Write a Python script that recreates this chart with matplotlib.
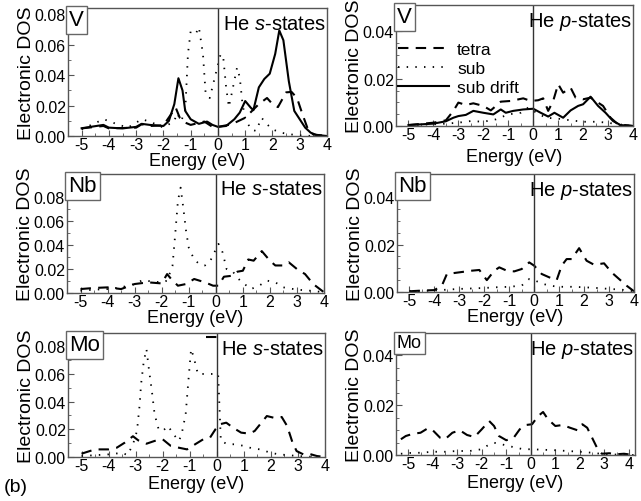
import numpy as np
import matplotlib
matplotlib.use("Agg")
import matplotlib.pyplot as plt

plt.rcParams['font.family'] = ['Liberation Sans', 'DejaVu Sans']
plt.rcParams['mathtext.fontset'] = 'custom'
plt.rcParams['mathtext.rm'] = 'Liberation Sans'
plt.rcParams['mathtext.it'] = 'Liberation Sans:italic'
plt.rcParams['axes.unicode_minus'] = False

# ---------------- data ----------------
# V, He s-states
v_s_drift_e = [-5, -4.2, -4, -3.5, -3, -2.8, -2.5, -2, -1.8, -1.6, -1.45, -1.3, -1.2, -1.0, -0.7, -0.4, -0.2, 0,
               0.3, 0.6, 0.8, 1.0, 1.2, 1.3, 1.5, 1.7, 1.9, 2.1, 2.25, 2.4, 2.6, 2.8, 3.0, 3.2, 3.4, 3.6, 4.0]
v_s_drift = [0.0051, 0.0073, 0.0055, 0.005, 0.006, 0.008, 0.0073, 0.0066, 0.0099, 0.021, 0.038, 0.030, 0.0165,
             0.011, 0.008, 0.0095, 0.0073, 0.006, 0.0066, 0.011, 0.0154, 0.023, 0.0187, 0.017, 0.032, 0.0375,
             0.041, 0.054, 0.0694, 0.063, 0.036, 0.0165, 0.011, 0.0055, 0.0022, 0.0007, 0.0]
v_s_tetra_e = [-5, -4.2, -4, -3, -2.8, -2.5, -2, -1.55, -1.4, -1.2, -1.0, -0.5, -0.2, 0, 0.5, 1.0, 1.5, 1.8,
               2.0, 2.2, 2.5, 2.7, 2.9, 3.1, 3.3, 3.5, 4.0]
v_s_tetra = [0.005, 0.0066, 0.005, 0.0055, 0.0077, 0.0066, 0.007, 0.0187, 0.012, 0.0088, 0.0073, 0.0095, 0.006,
             0.006, 0.0077, 0.012, 0.021, 0.025, 0.021, 0.019, 0.0287, 0.029, 0.025, 0.0143, 0.0044, 0.001, 0.0]
v_s_sub_e = [-5, -4.2, -4, -3.7, -3.3, -2.8, -2.5, -2.0, -1.8, -1.6, -1.5, -1.35, -1.2, -1.1, -1.0, -0.8, -0.7,
             -0.55, -0.45, -0.3, -0.15, 0.1, 0.2, 0.3, 0.4, 0.5, 0.7, 0.8, 0.9, 1.0, 1.2, 1.4, 1.6, 1.8, 2.0,
             2.3, 2.7, 3.0, 3.5, 4.0]
v_s_sub = [0.0044, 0.011, 0.0099, 0.0077, 0.0055, 0.011, 0.0095, 0.0055, 0.0077, 0.0099, 0.015, 0.0099, 0.0165,
           0.054, 0.069, 0.0677, 0.0716, 0.054, 0.0275, 0.025, 0.036, 0.054, 0.0507, 0.032, 0.019, 0.0275, 0.045,
           0.0386, 0.021, 0.012, 0.0044, 0.0033, 0.012, 0.0077, 0.0044, 0.0022, 0.001, 0.0004, 0.0, 0.0]

# V, He p-states
v_p_drift_e = [-5, -4, -3.5, -3.2, -3.0, -2.7, -2.4, -2.0, -1.6, -1.3, -1.1, -0.8, -0.4, 0, 0.3, 0.6, 0.85,
               1.2, 1.5, 1.8, 2.0, 2.3, 2.6, 2.9, 3.2, 3.5, 4.0]
v_p_drift = [0.0004, 0.001, 0.002, 0.0035, 0.0042, 0.0047, 0.0064, 0.0056, 0.0049, 0.007, 0.0056, 0.0064,
             0.007, 0.0073, 0.0056, 0.004, 0.0056, 0.0035, 0.0066, 0.0085, 0.0092, 0.0124, 0.0085, 0.0056,
             0.0021, 0.0004, 0.0]
v_p_tetra_e = [-5, -4, -3.5, -3.2, -3.0, -2.7, -2.4, -2.0, -1.7, -1.3, -0.9, -0.4, -0.1, 0.2, 0.4, 0.6, 0.8,
               1.0, 1.2, 1.5, 1.7, 2.0, 2.3, 2.6, 2.8, 3.1, 3.4, 4.0]
v_p_tetra = [0.0004, 0.0014, 0.0024, 0.0064, 0.0099, 0.0089, 0.0096, 0.0085, 0.0066, 0.0103, 0.0106, 0.0117,
             0.0106, 0.0109, 0.0117, 0.0064, 0.0106, 0.0177, 0.0141, 0.0162, 0.012, 0.0113, 0.012, 0.0099,
             0.0085, 0.0035, 0.0007, 0.0]
v_p_sub_e = [-5, -4, -3.5, -3, -2.5, -2, -1.5, -1, -0.5, -0.2, 0, 0.5, 1.0, 1.5, 2.0, 2.5, 3.0, 3.5, 4.0]
v_p_sub = [0.0004, 0.0007, 0.001, 0.0014, 0.0021, 0.0018, 0.0028, 0.0049, 0.0056, 0.0078, 0.0064, 0.0035,
           0.0031, 0.0024, 0.0018, 0.0018, 0.0014, 0.0004, 0.0]

# Nb, He s-states
nb_s_tetra_e = [-5, -4.5, -4, -3.5, -3.0, -2.5, -2.0, -1.8, -1.65, -1.4, -1.1, -0.8, -0.4, -0.1, 0.1, 0.3, 0.6,
                0.8, 1.0, 1.2, 1.4, 1.7, 2.0, 2.2, 2.5, 2.7, 3.0, 3.3, 3.6, 4.0]
nb_s_tetra = [0.0033, 0.0042, 0.0047, 0.0033, 0.0075, 0.0089, 0.008, 0.0158, 0.0117, 0.0061, 0.0075, 0.0117,
              0.0089, 0.0061, 0.0061, 0.0136, 0.0144, 0.0178, 0.0186, 0.028, 0.027, 0.035, 0.027, 0.023, 0.023,
              0.0256, 0.02, 0.0158, 0.0075, 0.0006]
nb_s_sub_e = [-5, -4.5, -4, -3.5, -3, -2.7, -2.4, -2.0, -1.8, -1.6, -1.5, -1.4, -1.3, -1.2, -1.1, -1.0, -0.8,
              -0.6, -0.4, -0.2, -0.05, 0.1, 0.25, 0.4, 0.6, 0.9, 1.3, 1.6, 1.9, 2.2, 2.5, 3.0, 3.5, 4.0]
nb_s_sub = [0.0019, 0.0028, 0.0033, 0.0047, 0.0075, 0.0108, 0.0097, 0.0089, 0.0103, 0.0228, 0.049, 0.077,
            0.088, 0.071, 0.052, 0.038, 0.028, 0.024, 0.023, 0.027, 0.034, 0.041, 0.034, 0.02, 0.0186, 0.0103,
            0.0033, 0.0061, 0.0103, 0.0089, 0.0047, 0.0028, 0.0019, 0.0006]

# Nb, He p-states
nb_p_tetra_e = [-5, -4.5, -4, -3.7, -3.5, -3.0, -2.5, -2.2, -1.9, -1.6, -1.4, -1.1, -0.8, -0.5, -0.2, 0.0, 0.3,
                0.6, 0.9, 1.1, 1.3, 1.5, 1.8, 2.1, 2.4, 2.8, 3.1, 3.4, 3.7, 4.0]
nb_p_tetra = [0.0003, 0.0006, 0.0008, 0.0027, 0.0076, 0.0083, 0.009, 0.0093, 0.005, 0.009, 0.0104, 0.009,
              0.0087, 0.0097, 0.0125, 0.0111, 0.0076, 0.0062, 0.005, 0.0111, 0.0139, 0.0139, 0.0185, 0.0132,
              0.0115, 0.0121, 0.0083, 0.0055, 0.0027, 0.0003]
nb_p_sub_e = [-5, -4, -3.5, -3, -2.5, -2, -1.5, -1, -0.5, -0.2, 0, 0.3, 0.6, 1.0, 1.5, 2.0, 2.5, 3.0, 3.5, 4.0]
nb_p_sub = [0.0003, 0.0006, 0.001, 0.0013, 0.0015, 0.0017, 0.002, 0.0022, 0.0027, 0.0055, 0.005, 0.0036,
            0.0027, 0.0022, 0.0022, 0.002, 0.0017, 0.0013, 0.001, 0.0003]

# Mo, He s-states
mo_s_tetra_e = [-5, -4.5, -4.0, -3.7, -3.4, -3.1, -2.9, -2.6, -2.3, -2.0, -1.7, -1.4, -1.1, -0.8, -0.5, -0.25,
                -0.05, 0.1, 0.35, 0.6, 0.9, 1.2, 1.4, 1.6, 1.85, 2.1, 2.4, 2.6, 2.8, 2.95, 3.2, 3.4, 3.7, 4.0]
mo_s_tetra = [0.0024, 0.0055, 0.0055, 0.0067, 0.0104, 0.015, 0.012, 0.0096, 0.0116, 0.0128, 0.008, 0.0067,
              0.0055, 0.0092, 0.0128, 0.014, 0.02, 0.0236, 0.0248, 0.0212, 0.0176, 0.0169, 0.0188, 0.0236,
              0.0296, 0.0284, 0.0289, 0.0224, 0.0104, 0.0043, 0.0019, 0.0024, 0.0007, 0.0]
mo_s_tetra_top_e = [-0.4, 0.05]
mo_s_tetra_top = [0.087, 0.087]
mo_s_sub_e = [-5, -4, -3.5, -3.3, -3.1, -2.95, -2.85, -2.8, -2.7, -2.6, -2.5, -2.4, -2.3, -2.15, -2.0, -1.8,
              -1.6, -1.4, -1.3, -1.15, -1.05, -0.95, -0.85, -0.7, -0.5, -0.3, 0.05, 0.15, 0.4, 0.7, 1.0, 1.3,
              1.6, 2.0, 2.3, 2.6, 3.0, 3.5, 4.0]
mo_s_sub = [0.0007, 0.0019, 0.003, 0.0014, 0.009, 0.0188, 0.038, 0.0525, 0.069, 0.078, 0.062, 0.0477, 0.031,
            0.02, 0.0188, 0.0224, 0.0164, 0.0116, 0.0164, 0.031, 0.055, 0.078, 0.072, 0.06, 0.06, 0.06, 0.06,
            0.0116, 0.0092, 0.0092, 0.008, 0.0063, 0.0055, 0.003, 0.0019, 0.0014, 0.0007, 0.0002, 0.0]

# Mo, He p-states
mo_p_tetra_e = [-5.3, -5.1, -4.8, -4.5, -4.2, -4.0, -3.7, -3.5, -3.2, -2.9, -2.6, -2.3, -2.0, -1.7, -1.5, -1.3,
                -1.0, -0.7, -0.45, -0.2, 0.05, 0.3, 0.5, 0.7, 1.0, 1.3, 1.6, 1.9, 2.1, 2.3, 2.5, 2.7, 2.9, 3.2,
                3.5, 3.8, 4.2]
mo_p_tetra = [0.0063, 0.0076, 0.0085, 0.0089, 0.0107, 0.0099, 0.0069, 0.0063, 0.0089, 0.0099, 0.008, 0.0072,
              0.0103, 0.0136, 0.0116, 0.0076, 0.0059, 0.0069, 0.0103, 0.012, 0.0123, 0.0156, 0.0172, 0.0143,
              0.0116, 0.012, 0.0109, 0.0099, 0.0123, 0.0109, 0.0069, 0.0029, 0.0005, 0.0007, 0.0003, 0.0005, 0.0]
mo_p_sub_e = [-5.3, -5, -4.5, -4, -3.5, -3, -2.5, -2, -1.8, -1.5, -1.2, -0.9, -0.6, -0.3, 0, 0.5, 1, 1.5, 2,
              2.5, 3.0, 4.2]
mo_p_sub = [0.0005, 0.0008, 0.0009, 0.0013, 0.0013, 0.0016, 0.0016, 0.0023, 0.0036, 0.0049, 0.0043, 0.0036,
            0.0029, 0.0023, 0.0023, 0.0021, 0.0019, 0.0016, 0.0013, 0.0009, 0.0003, 0.0]

xticks = [-5, -4, -3, -2, -1, 0, 1, 2, 3, 4]
s_yticks = [0.00, 0.02, 0.04, 0.06, 0.08]
p_yticks = [0.00, 0.02, 0.04]

# ---------------- figure ----------------
W, H = 641, 502
fig = plt.figure(figsize=(W / 100, H / 100), dpi=100)


def rect(l, t, r, b):
    return [l / W, 1 - b / H, (r - l) / W, (b - t) / H]


dash = dict(color='black', lw=1.5, linestyle=(0, (5, 3.5)))
dots = dict(color='black', lw=1.3, linestyle=(0, (0.8, 4)))
solid = dict(color='black', lw=1.5)
edge = '#555555'


def setup(ax, xlim, ylim, yticks, metal, state, metalsize=16, xlabpad=0.0):
    ax.set_xlim(*xlim)
    ax.set_ylim(*ylim)
    ax.set_xticks(xticks)
    ax.set_yticks(yticks)
    ax.set_yticklabels(['%.2f' % v for v in yticks])
    ax.set_xticks(np.arange(-5.5, 4.01, 0.5), minor=True)
    step = 0.01 if ylim[1] > 0.06 else 0.005
    ax.set_yticks(np.arange(0, ylim[1], step), minor=True)
    ax.tick_params(direction='in', length=4, width=0.8, labelsize=11.5, pad=1.5, color=edge)
    ax.tick_params(axis='x', pad=1.0)
    ax.tick_params(which='minor', direction='in', length=2, width=0.6, color=edge)
    for sp in ax.spines.values():
        sp.set_color(edge)
        sp.set_linewidth(1.0)
    ax.axvline(0, color='#333333', lw=1.0)
    ax.set_xlabel('Energy (eV)', fontsize=13, labelpad=xlabpad)
    ax.set_ylabel('Electronic DOS', fontsize=14, labelpad=0)
    ax.text(0.004, 0.99, metal, transform=ax.transAxes, ha='left', va='top', fontsize=metalsize,
            bbox=dict(boxstyle='square,pad=0.15', fc='white', ec='#666666', lw=1.0))
    ax.text(0.995, 0.955, 'He $' + state + '$-states', transform=ax.transAxes, ha='right', va='top',
            fontsize=14.5)


# V s-states
ax = fig.add_axes(rect(68, 9, 327, 137))
ax.plot(v_s_sub_e, v_s_sub, **dots)
ax.plot(v_s_tetra_e, v_s_tetra, **dash)
ax.plot(v_s_drift_e, v_s_drift, **solid)
setup(ax, (-5, 4), (0, 0.0842), s_yticks, 'V', 's', xlabpad=0)

# V p-states
ax = fig.add_axes(rect(396, 6, 633, 127))
ax.plot(v_p_tetra_e, v_p_tetra, label='tetra', **dash)
ax.plot(v_p_sub_e, v_p_sub, label='sub', **dots)
ax.plot(v_p_drift_e, v_p_drift, label='sub drift', **solid)
setup(ax, (-5, 4), (0, 0.0512), p_yticks, 'V', 'p', xlabpad=4)
ax.legend(loc='upper left', bbox_to_anchor=(-0.02, 0.75), frameon=False, fontsize=12.5,
          handlelength=2.9, handletextpad=0.5, labelspacing=0.2, borderaxespad=0)

# Nb s-states
ax = fig.add_axes(rect(67, 175, 324, 294))
ax.plot(nb_s_sub_e, nb_s_sub, **dots)
ax.plot(nb_s_tetra_e, nb_s_tetra, **dash)
setup(ax, (-5, 4), (0, 0.0994), s_yticks, 'Nb', 's', xlabpad=0)

# Nb p-states
ax = fig.add_axes(rect(397, 175, 634, 293))
ax.plot(nb_p_sub_e, nb_p_sub, **dots)
ax.plot(nb_p_tetra_e, nb_p_tetra, **dash)
setup(ax, (-5.12, 4), (0, 0.0498), p_yticks, 'Nb', 'p', xlabpad=0)

# Mo s-states
ax = fig.add_axes(rect(68, 334, 325, 458))
ax.plot(mo_s_sub_e, mo_s_sub, **dots)
ax.plot(mo_s_tetra_e, mo_s_tetra, **dash)
ax.plot(mo_s_tetra_top_e, mo_s_tetra_top, **dash)
setup(ax, (-5, 4), (0, 0.0896), s_yticks, 'Mo', 's', xlabpad=1)

# Mo p-states
ax = fig.add_axes(rect(396, 334, 635, 456))
ax.plot(mo_p_sub_e, mo_p_sub, **dots)
ax.plot(mo_p_tetra_e, mo_p_tetra, **dash)
setup(ax, (-5.35, 4.25), (0, 0.0488), p_yticks, 'Mo', 'p', metalsize=13, xlabpad=2)

fig.text(4 / W, 1 - 488 / H, '(b)', fontsize=14, ha='left', va='center')

fig.savefig('out.png', dpi=100)
